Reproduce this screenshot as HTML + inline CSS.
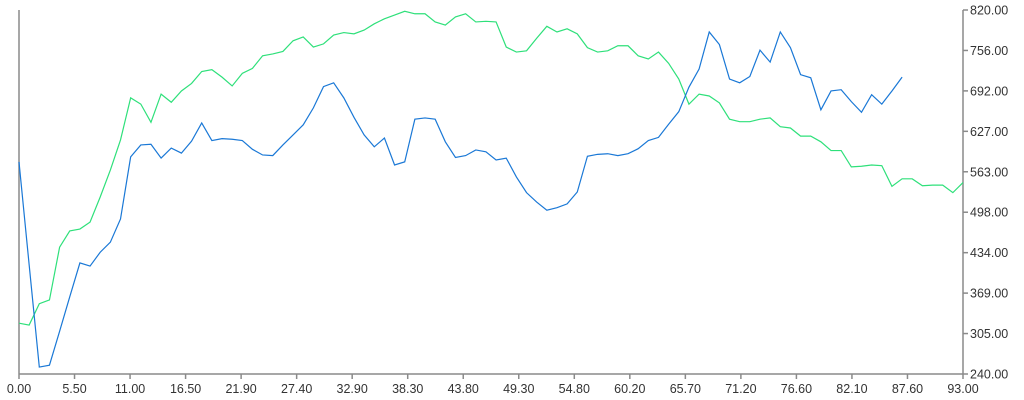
<!DOCTYPE html>
<html><head><meta charset="utf-8"><style>
html,body{margin:0;padding:0;background:#fff;}
svg{display:block;font-family:"Liberation Sans",sans-serif;}
</style></head><body>
<svg id="chart" width="1024" height="400" xmlns="http://www.w3.org/2000/svg">
<g id="axes"></g>
<g id="series"></g>
</svg>
<script>
const xTicks = ["0.00","5.50","11.00","16.50","21.90","27.40","32.90","38.30","43.80","49.30","54.80","60.20","65.70","71.20","76.60","82.10","87.60","93.00"];
const yTicks = ["240.00","305.00","369.00","434.00","498.00","563.00","627.00","692.00","756.00","820.00"];
const blueValues = [578,414,251,254,308,363,417,412,434,450,487,586,605,606,584,600,592,611,640,612,615,614,612,598,589,588,605,621,637,664,698,704,680,649,621,602,616,573,578,646,648,646,610,585,588,597,594,581,584,554,529,514,501,505,511,530,587,590,591,588,591,599,612,617,638,658,697,726,785,765,710,704,714,756,737,785,760,717,712,661,691,693,674,657,685,670,691,713];
const greenValues = [321,318,352,358,442,468,471,482,522,565,613,680,670,641,686,673,691,703,722,725,713,699,719,727,747,750,754,771,777,761,766,780,784,782,788,798,806,812,818,814,814,801,796,809,814,801,802,801,761,753,755,775,794,785,790,782,760,753,755,763,763,747,742,753,735,710,670,686,683,672,646,642,642,646,648,634,632,619,619,610,596,596,570,571,573,572,539,551,551,540,541,541,529,545];

const NS="http://www.w3.org/2000/svg";
const X0=19,X1=963,Y0=374,Y1=10,XMIN=0,XMAX=93,YMIN=240,YMAX=820;
function xs(v){return X0+(v-XMIN)/(XMAX-XMIN)*(X1-X0);}
function ys(v){return Y0-(v-YMIN)/(YMAX-YMIN)*(Y0-Y1);}
function mk(tag,attrs,parent){const e=document.createElementNS(NS,tag);for(const k in attrs)e.setAttribute(k,attrs[k]);parent.appendChild(e);return e;}
const axes=document.getElementById('axes');
const ser=document.getElementById('series');

let l=mk('line',{x1:X0,y1:Y1,x2:X0,y2:Y0,stroke:'#8a8a8a','stroke-width':1.5},axes);


l=mk('line',{x1:X1,y1:Y1,x2:X1,y2:Y0,stroke:'#8a8a8a','stroke-width':1.5},axes);


l=mk('line',{x1:X0,y1:Y0,x2:X1,y2:Y0,stroke:'#8a8a8a','stroke-width':1.5},axes);



xTicks.forEach(function(t,i){
  const x=X0+i*(X1-X0)/(xTicks.length-1);
  const tk=mk('line',{x1:x,y1:Y0,x2:x,y2:Y0+5,stroke:'#8a8a8a','stroke-width':1.5},axes);
  
  
  const tx=mk('text',{x:x,y:393,'text-anchor':'middle','font-size':12.5,fill:'#333'},axes);
  tx.textContent=t;
  
  
});
yTicks.forEach(function(t,i){
  const y=Y0-i*(Y0-Y1)/(yTicks.length-1);
  const tk=mk('line',{x1:X1,y1:y,x2:X1+5,y2:y,stroke:'#8a8a8a','stroke-width':1.5},axes);
  
  
  const tx=mk('text',{x:970,y:y+4.5,'text-anchor':'start','font-size':12.5,fill:'#333'},axes);
  tx.textContent=t;
  
  
});

function pathFor(vals){return vals.map(function(v,i){return (i?'L':'M')+xs(i).toFixed(2)+' '+ys(v).toFixed(2);}).join(' ');}
let p=mk('path',{d:pathFor(greenValues),fill:'none',stroke:'#2ee07a','stroke-width':1.2},ser);


p=mk('path',{d:pathFor(blueValues),fill:'none',stroke:'#1a78d6','stroke-width':1.2},ser);


</script>
</body></html>
